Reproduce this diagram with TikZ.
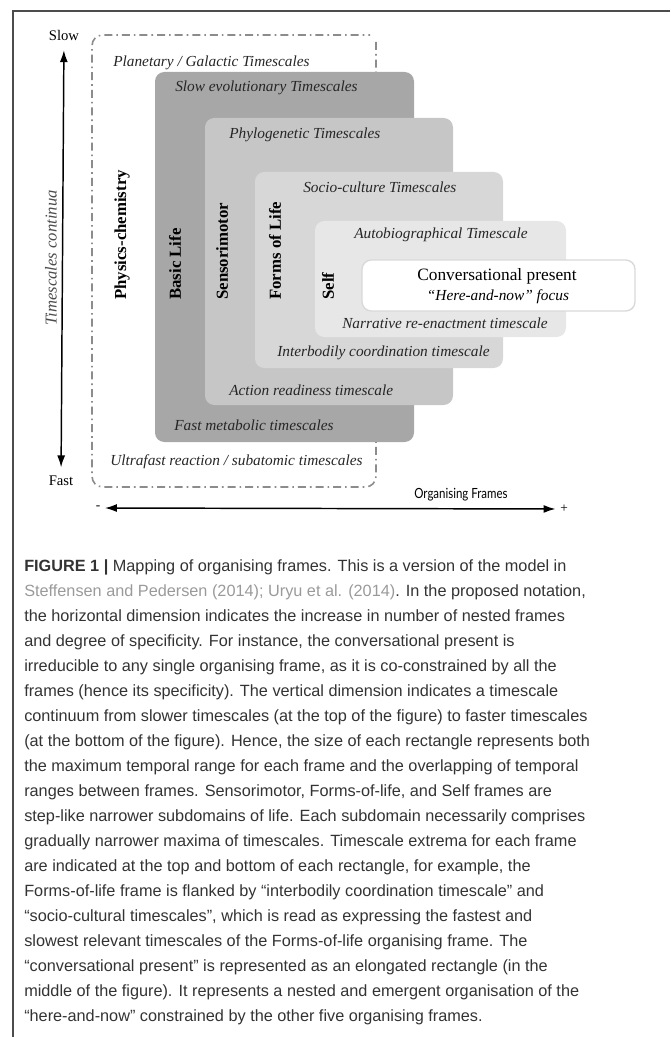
\documentclass[tikz,border=0pt]{standalone}
\usepackage{fontspec}
\setmainfont{Liberation Serif}
\newfontfamily\capfont{Liberation Sans}
\newfontfamily\orgfont[FakeStretch=0.82]{Lato}
\usetikzlibrary{arrows.meta}
\definecolor{basiclife}{HTML}{A7A7A7}
\definecolor{sensori}{HTML}{C6C6C6}
\definecolor{formslife}{HTML}{D7D7D7}
\definecolor{selfbox}{HTML}{E7E7E7}
\definecolor{captxt}{HTML}{333333}
\definecolor{citetxt}{HTML}{9A9A9A}

\begin{document}
\begin{tikzpicture}[x=0.75pt,y=-0.75pt,
	tscale/.style={font=\fontsize{11.5}{13}\selectfont\itshape, text=black!85, inner sep=0pt, anchor=west},
	fname/.style={font=\fontsize{12.6}{14}\selectfont\bfseries, rotate=90, anchor=west, inner sep=0pt},
	framebox/.style={rounded corners=7pt}]
	\useasboundingbox (0,0) rectangle (670,1037);
	\draw[black!70, line width=1.1pt] (13,1037) -- (13,11) -- (670,11);
%	physics-chemistry frame
	\draw[black!45, line width=1.2pt, dash pattern=on 6pt off 3pt on 1.2pt off 3pt, rounded corners=8pt]
		(376,42) -- (376,487) -- (92,487) -- (92,35) -- (370,35);
	\fill[framebox, basiclife] (155,72) rectangle (414,442);
	\fill[framebox, sensori] (205,118) rectangle (453,405);
	\fill[framebox, formslife] (255,172) rectangle (503,368);
	\fill[framebox, selfbox] (315,221) rectangle (566,337);
	\draw[framebox, black!15, fill=white, line width=1pt] (362,260) rectangle (635,311);
%	timescale extrema
	\node[tscale] (planet) at (113,63) {Planetary / Galactic Timescales};
	\node[tscale] (ultra) at (110,462) {Ultrafast reaction / subatomic timescales};
	\node[tscale] (slowevo) at (175,88) {Slow evolutionary Timescales};
	\node[tscale] (metab) at (174,425) {Fast metabolic timescales};
	\node[tscale] (phylo) at (229,135) {Phylogenetic Timescales};
	\node[tscale] (action) at (229,390) {Action readiness timescale};
	\node[tscale] (socio) at (303,187) {Socio-culture Timescales};
	\node[tscale] (interb) at (277,353) {Interbodily coordination timescale};
	\node[tscale] (autob) at (354,235) {Autobiographical Timescale};
	\node[tscale] (narr) at (342,323) {Narrative re-enactment timescale};
%	frame names
	\node[fname] (physics) at (122,300) {Physics-chemistry};
	\node[fname] (basic) at (175,300) {Basic Life};
	\node[fname] (sensor) at (222,300) {Sensorimotor};
	\node[fname] (forms) at (275,300) {Forms of Life};
	\node[fname] (self) at (328,300) {Self};
	\node[font=\fontsize{13}{15}\selectfont] (conv) at (497,276) {Conversational present};
	\node[font=\fontsize{11.5}{13}\selectfont\itshape] (herenow) at (498,297) {“Here-and-now” focus};
%	axes
	\node[font=\fontsize{11}{13}\selectfont] (slow) at (64,35) {Slow};
	\node[font=\fontsize{11}{13}\selectfont] (fast) at (61,481) {Fast};
	\draw[line width=1.1pt, {Latex[length=9pt,width=6pt]}-{Latex[length=9pt,width=6pt]}, shorten <=4pt, shorten >=3pt]
		(slow) -- (fast);
	\node[font=\fontsize{12.5}{14}\selectfont\itshape, text=black!70, rotate=90] (contin) at (51,258) {Timescales continua};
	\node[font=\fontsize{10}{12}\selectfont] (minus) at (98,508) {-};
	\node[font=\fontsize{10}{12}\selectfont] (plus) at (564,509) {+};
	\draw[line width=1.1pt, {Latex[length=9pt,width=6pt]}-{Latex[length=9pt,width=6pt]}] (minus) -- (plus);
	\node[font=\orgfont\fontsize{10.5}{12}\selectfont] (orgf) at (461,495) {Organising Frames};
%	caption
	\node[anchor=north west, inner sep=0pt, align=left, text=captxt,
		font=\capfont\fontsize{12.2}{18.75}\selectfont] (caption) at (24,559) {%
		\textbf{FIGURE 1 |} Mapping of organising frames. This is a version of the model in\\
		{\color{citetxt}Steffensen and Pedersen (2014); Uryu et al. (2014)}. In the proposed notation,\\
		the horizontal dimension indicates the increase in number of nested frames\\
		and degree of specificity. For instance, the conversational present is\\
		irreducible to any single organising frame, as it is co-constrained by all the\\
		frames (hence its specificity). The vertical dimension indicates a timescale\\
		continuum from slower timescales (at the top of the figure) to faster timescales\\
		(at the bottom of the figure). Hence, the size of each rectangle represents both\\
		the maximum temporal range for each frame and the overlapping of temporal\\
		ranges between frames. Sensorimotor, Forms-of-life, and Self frames are\\
		step-like narrower subdomains of life. Each subdomain necessarily comprises\\
		gradually narrower maxima of timescales. Timescale extrema for each frame\\
		are indicated at the top and bottom of each rectangle, for example, the\\
		Forms-of-life frame is flanked by “interbodily coordination timescale” and\\
		“socio-cultural timescales”, which is read as expressing the fastest and\\
		slowest relevant timescales of the Forms-of-life organising frame. The\\
		“conversational present” is represented as an elongated rectangle (in the\\
		middle of the figure). It represents a nested and emergent organisation of the\\
		“here-and-now” constrained by the other five organising frames.};
\end{tikzpicture}
\end{document}
